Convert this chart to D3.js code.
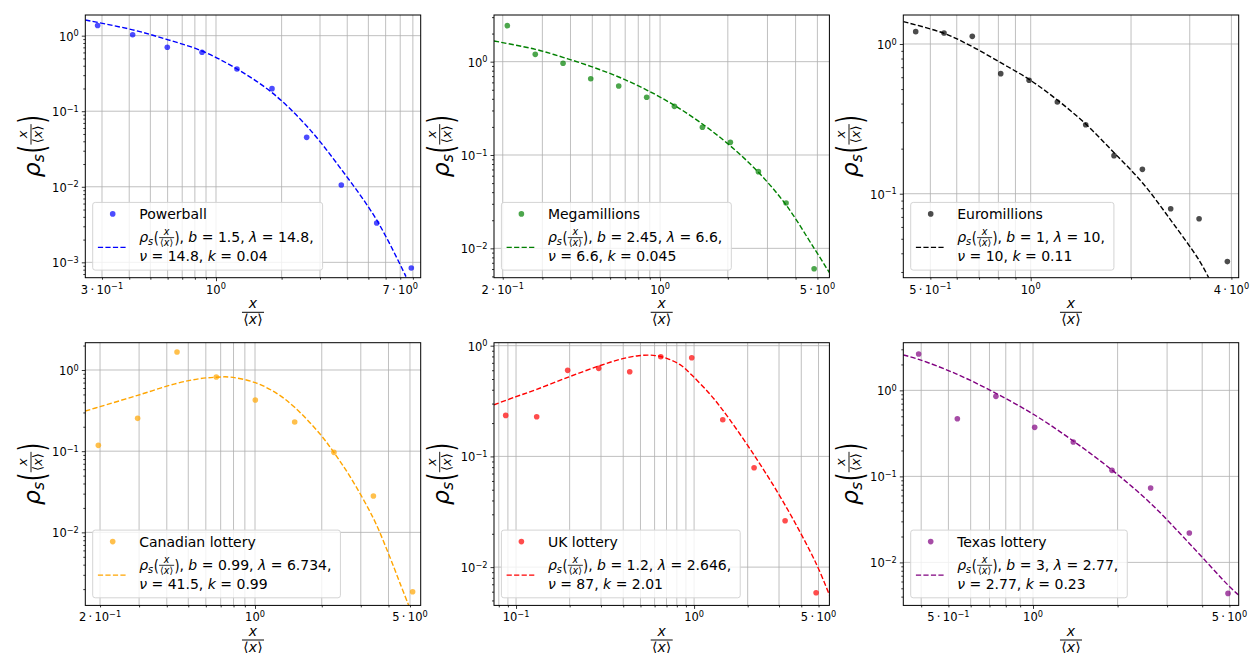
<!DOCTYPE html>
<html><head><meta charset="utf-8">
<script src="https://cdn.jsdelivr.net/npm/d3@7"></script>
<style>
body{margin:0;background:#fff}
svg{display:block}
text{font-family:"DejaVu Sans",sans-serif;fill:#000;white-space:pre}
</style>
</head><body>
<svg id="c" width="1252" height="653"></svg>
<script>
// ---------------- data ----------------
const names = ["Powerball","Megamillions","Euromillions","Canadian lottery","UK lottery","Texas lottery"];

const pbX = [0.2865,0.4147,0.598,0.863,1.248,1.807,2.606,3.757,5.46,7.87];
const pbY = [1.36,1.03,0.701,0.602,0.362,0.199,0.0451,0.01056,0.00332,0.000842];
const pbFitX = [0.2516,0.4147,0.5978,0.8626,1.248,1.807,2.606,3.757,5.458,7.44];
const pbFitY = [1.612,1.195,0.888,0.627,0.3622,0.1761,0.0638,0.01702,0.003636,0.000647];

const mmX = [0.2097,0.279,0.3707,0.492,0.655,0.872,1.158,1.542,2.053,2.735,3.63,4.835];
const mmY = [2.43,1.198,0.960,0.657,0.549,0.415,0.332,0.198,0.1367,0.0663,0.0306,0.00605];
const mmFitX = [0.1829,0.2792,0.3706,0.4918,0.6552,0.8724,1.158,1.542,2.054,2.735,3.631,4.836,5.655];
const mmFitY = [1.665,1.356,1.113,0.891,0.685,0.497,0.3404,0.2149,0.1249,0.0652,0.02912,0.01,0.00548];

const emX = [0.4519,0.5495,0.668,0.813,0.989,1.202,1.462,1.778,2.163,2.63,3.2,3.89];
const emY = [1.209,1.184,1.125,0.634,0.572,0.41,0.289,0.1795,0.1455,0.0794,0.068,0.0352];
const emFitX = [0.415,0.5495,0.6683,0.8128,0.9886,1.2023,1.4622,1.7783,2.1627,2.6303,3.1989,3.4198];
const emFitY = [1.4103,1.1784,0.9598,0.7502,0.5805,0.4224,0.2921,0.1879,0.1185,0.0667,0.036,0.02747];

const caX = [0.1965,0.2955,0.4448,0.669,1.003,1.51,2.27,3.42,5.14];
const caY = [0.118,0.2538,1.666,0.820,0.427,0.2288,0.0967,0.02804,0.001858];
const caFitX = [0.1716,0.1999,0.2955,0.4446,0.5647,0.669,0.7713,1.0035,1.2524,1.5099,1.9645,2.272,2.6836,3.4188,3.9957,4.5103,4.934];
const caFitY = [0.3125,0.3534,0.4875,0.685,0.782,0.815,0.818,0.698,0.516,0.3467,0.1627,0.0958,0.0485,0.01488,0.00551,0.002353,0.00126];

const ukX = [0.0875,0.1306,0.195,0.2913,0.435,0.65,0.970,1.449,2.173,3.245,4.846];
const ukY = [0.2347,0.2283,0.5986,0.624,0.582,0.7953,0.779,0.2145,0.079,0.02623,0.00586];
const ukFitX = [0.07522,0.1,0.1306,0.1951,0.2913,0.384,0.4867,0.5909,0.7023,0.834,0.9703,1.23,1.4488,2.1733,3.2448,4.8464,5.7585];
const ukFitY = [0.2929,0.3461,0.4031,0.5174,0.655,0.7523,0.8121,0.8178,0.7682,0.6736,0.5431,0.3633,0.2622,0.1028,0.03633,0.01079,0.00558];

const txX = [0.3918,0.538,0.738,1.0137,1.391,1.91,2.622,3.6,4.943];
const txY = [2.646,0.4685,0.8516,0.3714,0.2508,0.1175,0.0732,0.02193,0.00436];
const txFitX = [0.3455,0.3918,0.5378,0.7385,1.0137,1.3915,1.91,2.6225,3.6003,4.9431,5.3951];
const txFitY = [2.5757,2.2935,1.5348,0.9228,0.5166,0.2576,0.1185,0.04853,0.01663,0.00545,0.00417];

// fit parameters shown in legends: b, lambda, nu, k
const pbParams = ["1.5","14.8","14.8","0.04"];
const mmParams = ["2.45","6.6","6.6","0.045"];
const emParams = ["1","10","10","0.11"];
const caParams = ["0.99","6.734","41.5","0.99"];
const ukParams = ["1.2","2.646","87","2.01"];
const txParams = ["3","2.77","2.77","0.23"];

// labelled x ticks: [mantissa, exponent]
const pbXTicks = [[3,-1],[1,0],[7,0]];
const mmXTicks = [[2,-1],[1,0],[5,0]];
const emXTicks = [[5,-1],[1,0],[4,0]];
const caXTicks = [[2,-1],[1,0],[5,0]];
const ukXTicks = [[1,-1],[1,0],[5,0]];
const txXTicks = [[5,-1],[1,0],[5,0]];
// labelled y ticks: exponents
const pbYTicks = [0,-1,-2,-3];
const mmYTicks = [0,-1,-2];
const emYTicks = [0,-1];
const caYTicks = [0,-1,-2];
const ukYTicks = [0,-1,-2];
const txYTicks = [0,-1,-2];

// axis ranges
const pbXDom = [0.2515,8.69],  pbYDom = [6.26e-4,1.877];
const mmXDom = [0.1829,5.653], mmYDom = [0.004846,3.162];
const emXDom = [0.4148,4.207], emYDom = [0.02748,1.562];
const caXDom = [0.1716,5.589], caYDom = [0.00126,2.169];
const ukXDom = [0.0752,5.755], ukYDom = [0.00451,1.064];
const txXDom = [0.3455,5.395], txYDom = [0.003164,3.58];

// ---------------- layout ----------------
const colLeft = [85.3, 494, 903.3], rowTop = [15, 342.7];
const PW = 335.4, PH = 262.7;

const panels = [
  {name:names[0], xs:pbX, ys:pbY, fx:pbFitX, fy:pbFitY, line:"#0000ff", xDom:pbXDom, yDom:pbYDom, xt:pbXTicks, yt:pbYTicks, par:pbParams, c:0, r:0},
  {name:names[1], xs:mmX, ys:mmY, fx:mmFitX, fy:mmFitY, line:"#008000", xDom:mmXDom, yDom:mmYDom, xt:mmXTicks, yt:mmYTicks, par:mmParams, c:1, r:0},
  {name:names[2], xs:emX, ys:emY, fx:emFitX, fy:emFitY, line:"#000000", xDom:emXDom, yDom:emYDom, xt:emXTicks, yt:emYTicks, par:emParams, c:2, r:0},
  {name:names[3], xs:caX, ys:caY, fx:caFitX, fy:caFitY, line:"#ffa500", xDom:caXDom, yDom:caYDom, xt:caXTicks, yt:caYTicks, par:caParams, c:0, r:1},
  {name:names[4], xs:ukX, ys:ukY, fx:ukFitX, fy:ukFitY, line:"#ff0000", xDom:ukXDom, yDom:ukYDom, xt:ukXTicks, yt:ukYTicks, par:ukParams, c:1, r:1},
  {name:names[5], xs:txX, ys:txY, fx:txFitX, fy:txFitY, line:"#800080", xDom:txXDom, yDom:txYDom, xt:txXTicks, yt:txYTicks, par:txParams, c:2, r:1}
];

const svg = d3.select("#c");
const GRID = "#b0b0b0";

// ---------- math text helpers ----------
function mathRun(g, x0, base, pieces, defSize){
  let cx = x0;
  pieces.forEach(p => {
    const s = p.size || defSize;
    if (p.frac){
      const fg = g.append("g");
      const num = fg.append("text").attr("font-size", s).attr("font-style","italic").text(p.frac);
      const den = fg.append("text").attr("font-size", s);
      den.append("tspan").text("\u27E8");
      den.append("tspan").attr("font-style","italic").text("x");
      den.append("tspan").text("\u27E9");
      const wn = num.node().getComputedTextLength(), wd = den.node().getComputedTextLength();
      const pad = s*0.1;
      const wb = Math.max(wn, wd) + 2*pad;
      const barY = base - p.raise;
      num.attr("x", cx + (wb-wn)/2).attr("y", barY - 0.29*s);
      den.attr("x", cx + (wb-wd)/2).attr("y", barY + 0.87*s);
      fg.append("line").attr("x1", cx).attr("x2", cx+wb).attr("y1", barY).attr("y2", barY)
        .attr("stroke","#000").attr("stroke-width", Math.max(0.8, s*0.07));
      cx += wb + (p.gap||0);
    } else {
      const t = g.append("text").attr("xml:space","preserve").attr("font-size", s).text(p.t);
      if (p.it) t.attr("font-style","italic");
      const dy = p.dy || 0;
      if (p.sy){
        const c = 0.31*s;
        t.attr("transform", `translate(${cx},${base+dy-c}) scale(1,${p.sy})`).attr("x",0).attr("y",c);
      } else {
        t.attr("x", cx).attr("y", base+dy);
      }
      cx += t.node().getComputedTextLength() + (p.gap||0);
    }
  });
  return cx - x0;
}

function supLabel(text, m, e, supSize, supDy){
  if (m !== 1) text.append("tspan").text(m + "\u2009\u00B7\u200910");
  else text.append("tspan").text("10");
  text.append("tspan").attr("font-size", supSize).attr("dy", supDy).text(e < 0 ? "\u2212" + (-e) : String(e));
}

function decadeValues(dom, minor){
  const out = [];
  const e0 = Math.floor(Math.log10(dom[0])) , e1 = Math.ceil(Math.log10(dom[1]));
  for (let e = e0; e <= e1; e++){
    for (let m = 1; m <= 9; m++){
      if ((m === 1) === minor) continue;
      const v = m * Math.pow(10, e);
      if (v >= dom[0]*0.9999 && v <= dom[1]*1.0001) out.push(v);
    }
  }
  return out;
}

panels.forEach((P, i) => {
  const left = colLeft[P.c], top = rowTop[P.r];
  const g = svg.append("g").attr("transform", `translate(${left},${top})`);
  const x = d3.scaleLog().domain(P.xDom).range([0, PW]);
  const y = d3.scaleLog().domain(P.yDom).range([PH, 0]);

  const clipId = "clip" + i;
  g.append("clipPath").attr("id", clipId).append("rect").attr("width", PW).attr("height", PH);

  // grid: x both major and minor, y major only
  const xMaj = decadeValues(P.xDom, false), xMin = decadeValues(P.xDom, true);
  const yMaj = decadeValues(P.yDom, false), yMin = decadeValues(P.yDom, true);
  const grid = g.append("g");
  grid.selectAll("line.vx").data(xMaj.concat(xMin)).join("line")
    .attr("x1", d => x(d)).attr("x2", d => x(d)).attr("y1", 0).attr("y2", PH)
    .attr("stroke", GRID).attr("stroke-width", 0.8);
  grid.selectAll("line.hy").data(yMaj).join("line")
    .attr("x1", 0).attr("x2", PW).attr("y1", d => y(d)).attr("y2", d => y(d))
    .attr("stroke", GRID).attr("stroke-width", 0.8);

  // axes ticks (d3 axes), labels drawn separately with superscripts
  const axB = g.append("g").attr("transform", `translate(0,${PH})`)
    .call(d3.axisBottom(x).tickValues(xMaj).tickSize(3.5).tickSizeOuter(0).tickFormat(() => ""));
  const axBm = g.append("g").attr("transform", `translate(0,${PH})`)
    .call(d3.axisBottom(x).tickValues(xMin).tickSize(2).tickSizeOuter(0).tickFormat(() => ""));
  const axL = g.append("g")
    .call(d3.axisLeft(y).tickValues(yMaj).tickSize(3.5).tickSizeOuter(0).tickFormat(() => ""));
  const axLm = g.append("g")
    .call(d3.axisLeft(y).tickValues(yMin).tickSize(2).tickSizeOuter(0).tickFormat(() => ""));
  [axB, axBm, axL, axLm].forEach(a => {
    a.select(".domain").remove();
    a.selectAll(".tick line").attr("stroke", "#000").attr("stroke-width", 0.8);
  });

  // x tick labels
  P.xt.forEach(([m, e]) => {
    const v = m * Math.pow(10, e);
    const t = g.append("text").attr("x", x(v)).attr("y", PH + 16).attr("text-anchor","middle").attr("font-size", 11.5);
    supLabel(t, m, e, 8.2, -4.4);
  });
  // y tick labels
  P.yt.forEach(e => {
    const v = Math.pow(10, e);
    const t = g.append("text").attr("x", -6.5).attr("y", y(v) + 5).attr("text-anchor","end").attr("font-size", 11.5);
    supLabel(t, 1, e, 8.2, -4.4);
  });

  // data
  const plot = g.append("g").attr("clip-path", `url(#${clipId})`);
  const fit = P.fx.map((v, k) => [v, P.fy[k]]);
  plot.append("path").datum(fit)
    .attr("d", d3.line().x(d => x(d[0])).y(d => y(d[1])).curve(d3.curveCatmullRom.alpha(0.5)))
    .attr("fill", "none").attr("stroke", P.line).attr("stroke-width", 1.4)
    .attr("stroke-dasharray", "5.2,2.3");
  const pts = P.xs.map((v, k) => [v, P.ys[k]]);
  plot.selectAll("circle").data(pts).join("circle")
    .attr("cx", d => x(d[0])).attr("cy", d => y(d[1])).attr("r", 2.8)
    .attr("fill", P.line).attr("fill-opacity", 0.7);

  // frame
  g.append("rect").attr("width", PW).attr("height", PH).attr("fill","none").attr("stroke","#000").attr("stroke-width", 1);

  // legend
  const LH = 67.7;
  const lg = g.append("g").attr("transform", `translate(7.4,${PH - 7.6 - LH})`);
  const box = lg.append("rect").attr("height", LH).attr("rx", 2.5).attr("ry", 2.5)
    .attr("fill", "#fff").attr("fill-opacity", 0.8).attr("stroke", "#d4d4d4").attr("stroke-width", 1);
  lg.append("circle").attr("cx", 20).attr("cy", 11.5).attr("r", 2.8).attr("fill", P.line).attr("fill-opacity", 0.7);
  lg.append("line").attr("x1", 5.2).attr("x2", 33).attr("y1", 45).attr("y2", 45)
    .attr("stroke", P.line).attr("stroke-width", 1.4).attr("stroke-dasharray", "5.2,2.3");
  const tx0 = 46.5;
  const t1 = lg.append("text").attr("x", tx0).attr("y", 16.5).attr("font-size", 14).text(P.name);
  const w1 = t1.node().getComputedTextLength();
  const w2 = mathRun(lg, tx0, 40, [
    {t:"\u03C1", it:1}, {t:"s", it:1, size:9.8, dy:2.6, gap:0.6},
    {t:"(", size:13, sy:1.2, gap:0.2}, {frac:"x", size:9.6, raise:4.8, gap:0.2}, {t:")", size:13, sy:1.2},
    {t:", "}, {t:"b", it:1}, {t:" = " + P.par[0] + ", "}, {t:"\u03BB", it:1}, {t:" = " + P.par[1] + ","}
  ], 14);
  const w3 = mathRun(lg, tx0, 59, [
    {t:"\u03BD", it:1}, {t:" = " + P.par[2] + ", "}, {t:"k", it:1}, {t:" = " + P.par[3]}
  ], 14);
  box.attr("width", tx0 + Math.max(w1, w2, w3) + 9);

  // x label: fraction
  const xl = g.append("g");
  const wx = mathRun(xl, 0, PH + 34.6, [{frac:"x", size:14, raise:0}], 14);
  xl.attr("transform", `translate(${PW/2 - wx/2},0)`);

  // y label: rho_s( x / <x> ), rotated
  const yl = g.append("g").attr("transform", `translate(-45.3,${PH/2}) rotate(-90)`);
  const inner = yl.append("g");
  const wy = mathRun(inner, 0, 0, [
    {t:"\u03C1", it:1, size:23.5}, {t:"s", it:1, size:15.5, dy:4, gap:1},
    {t:"(", size:21, sy:1.65, gap:0.5}, {frac:"x", size:13, raise:9, gap:0.5}, {t:")", size:21, sy:1.65}
  ], 23.5);
  inner.attr("transform", `translate(${-wy/2},0)`);
});
</script>
</body></html>
